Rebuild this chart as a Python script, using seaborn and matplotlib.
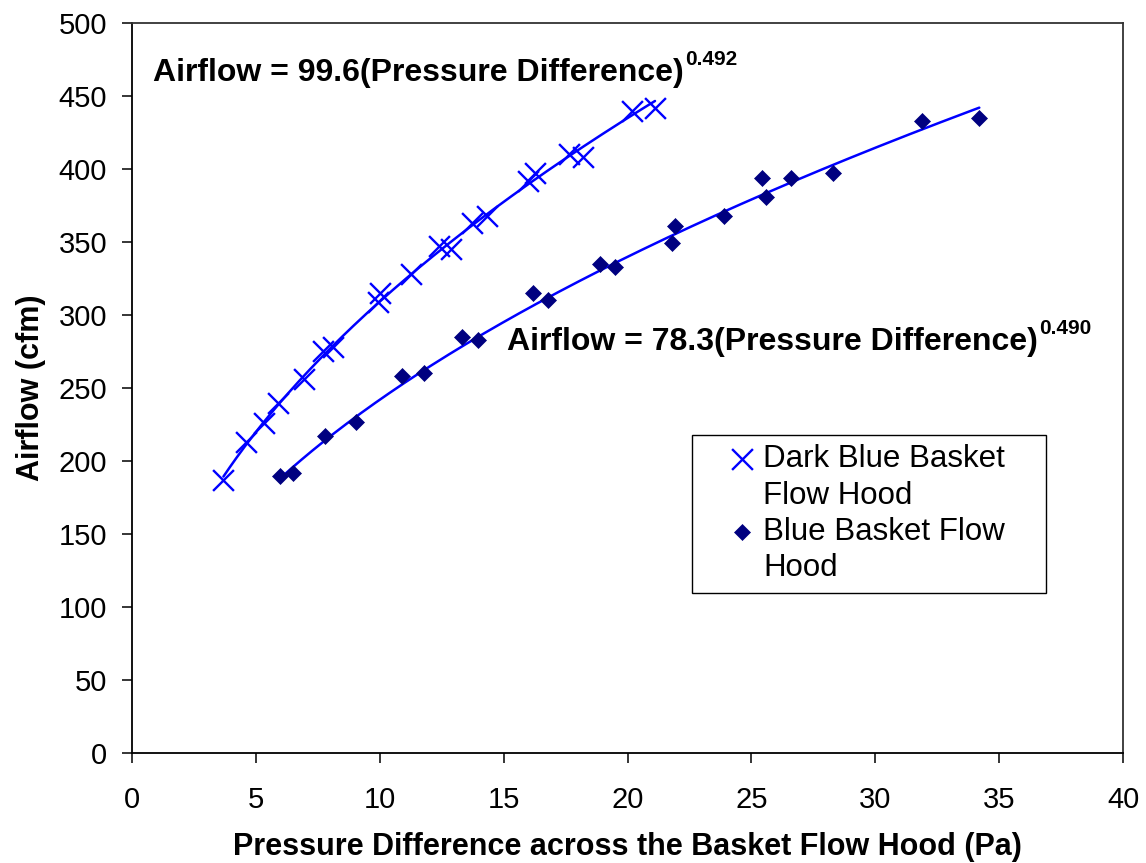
import numpy as np
import pandas as pd
import matplotlib
matplotlib.use("Agg")
import matplotlib.pyplot as plt
from matplotlib.lines import Line2D
import seaborn as sns

# Dark blue basket flow hood: pressure difference (Pa) and airflow (cfm)
dark_pressure = [3.69, 4.60, 5.34, 5.89, 6.94, 7.72, 8.13, 9.94, 10.01, 11.25,
                 12.41, 12.87, 13.72, 14.34, 16.00, 16.27, 17.65, 18.19, 20.20, 21.11]
dark_airflow = [187, 213, 226, 240, 256, 275, 278, 309, 315, 328,
                347, 345, 363, 368, 392, 397, 410, 408, 440, 442]

# Blue basket flow hood
blue_pressure = [5.99, 6.51, 7.79, 9.06, 10.90, 11.78, 13.31, 13.97, 16.18, 16.80,
                 18.90, 19.50, 21.80, 21.90, 23.90, 25.42, 25.60, 26.60, 28.31, 31.90, 34.20]
blue_airflow = [189.5, 192, 217, 227, 258, 260, 285, 283, 315, 310,
                335, 333, 349, 361, 368, 394, 381, 394, 397, 433, 435]

# Power-law trend lines: airflow = C * dP^n
dark_coef, dark_exp = 99.6, 0.492
blue_coef, blue_exp = 78.3, 0.490

dark_label = ["Dark Blue Basket", "Flow Hood"]
blue_label = ["Blue Basket Flow", "Hood"]

x_ticks = list(range(0, 41, 5))
y_ticks = list(range(0, 501, 50))

DARK_COLOR = "#0000FF"
BLUE_COLOR = "#000080"
LINE_COLOR = "#0000FF"

sns.set_style("ticks")
plt.rcParams["font.family"] = ["Liberation Sans", "DejaVu Sans"]
plt.rcParams["text.color"] = "black"
plt.rcParams["axes.labelcolor"] = "black"

W, H = 1146, 863
fig = plt.figure(figsize=(W / 100, H / 100), dpi=100)
ax = fig.add_axes([132 / W, 1 - 753 / H, (1123 - 132) / W, (753 - 23) / H])


def power_fit(pressure, coef, exp):
    p = np.linspace(min(pressure), max(pressure), 200)
    return pd.DataFrame({"pressure": p, "airflow": coef * p ** exp})


dark_fit = power_fit(dark_pressure, dark_coef, dark_exp)
blue_fit = power_fit(blue_pressure, blue_coef, blue_exp)

sns.lineplot(data=dark_fit, x="pressure", y="airflow", color=LINE_COLOR,
             linewidth=1.8, estimator=None, sort=False, legend=False, ax=ax, zorder=2)
sns.lineplot(data=blue_fit, x="pressure", y="airflow", color=LINE_COLOR,
             linewidth=1.8, estimator=None, sort=False, legend=False, ax=ax, zorder=2)

sns.scatterplot(x=dark_pressure, y=dark_airflow, marker="x", s=225,
                color=DARK_COLOR, linewidth=1.7, ax=ax, zorder=3,
                label=dark_label[0])
sns.scatterplot(x=blue_pressure, y=blue_airflow, marker="D", s=66,
                color=BLUE_COLOR, edgecolor=BLUE_COLOR, linewidth=0.5, ax=ax,
                zorder=3, label=blue_label[0])

ax.set_xlim(x_ticks[0], x_ticks[-1])
ax.set_ylim(y_ticks[0], y_ticks[-1])
ax.set_xticks(x_ticks)
ax.set_yticks(y_ticks)
ax.tick_params(axis="both", labelsize=21, length=7, width=1.1,
               direction="out", color="black", labelcolor="black")
ax.tick_params(axis="x", pad=17)
ax.tick_params(axis="y", pad=11)

for side in ["left", "bottom"]:
    ax.spines[side].set_color("black")
    ax.spines[side].set_linewidth(1.3)
for side in ["top", "right"]:
    ax.spines[side].set_visible(True)
    ax.spines[side].set_color("#333333")
    ax.spines[side].set_linewidth(1.3)

ax.set_xlabel("Pressure Difference across the Basket Flow Hood (Pa)",
              fontsize=22, fontweight="bold", color="black", labelpad=13)
ax.set_ylabel("Airflow (cfm)", fontsize=22, fontweight="bold",
              color="black", labelpad=9)

# Trend line equations
t1 = ax.text(0.85, 460, f"Airflow = {dark_coef}(Pressure Difference)",
             fontsize=23, fontweight="bold", va="baseline", ha="left",
             color="black")
ax.annotate(f"{dark_exp:.3f}", xy=(1, 1), xycoords=t1, xytext=(1, 6),
            textcoords="offset points", fontsize=15, fontweight="bold",
            va="top", ha="left", color="black")
t2 = ax.text(15.14, 276, f"Airflow = {blue_coef}(Pressure Difference)",
             fontsize=23, fontweight="bold", va="baseline", ha="left",
             color="black")
ax.annotate(f"{blue_exp:.3f}", xy=(1, 1), xycoords=t2, xytext=(1, 6),
            textcoords="offset points", fontsize=15, fontweight="bold",
            va="top", ha="left", color="black")

# Legend: each label wraps onto a second row without a marker
handles, labels = ax.get_legend_handles_labels()
h_dark = handles[labels.index(dark_label[0])]
h_blue = handles[labels.index(blue_label[0])]
blank = Line2D([], [], linestyle="none")
leg = ax.legend([h_dark, blank, h_blue, blank],
                [dark_label[0], dark_label[1], blue_label[0], blue_label[1]],
                loc="upper left", bbox_to_anchor=(0.5651, 0.2356, 0.3572, 0.2),
                mode="expand", borderaxespad=0, fontsize=22.5,
                frameon=True, fancybox=False, framealpha=1, edgecolor="black",
                borderpad=0.3, handlelength=2.6, handletextpad=-0.62,
                labelspacing=0.2)
leg.get_frame().set_linewidth(1.0)
for txt in leg.get_texts():
    txt.set_color("black")

fig.savefig("out.png", dpi=100, facecolor="white")
